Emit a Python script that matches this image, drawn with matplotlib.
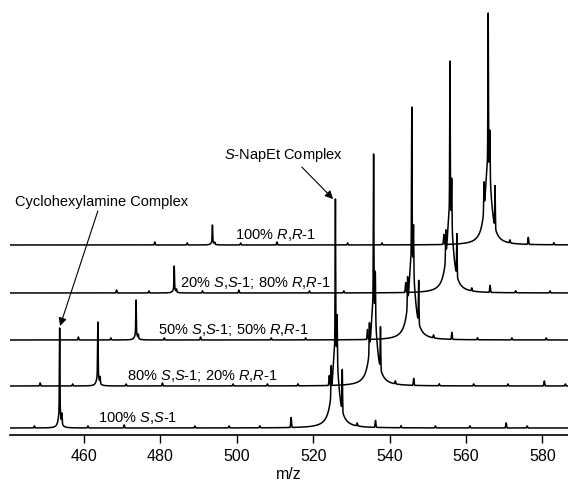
import numpy as np
import matplotlib.pyplot as plt

plt.rcParams['font.family'] = ['Liberation Sans', 'DejaVu Sans']
plt.rcParams['mathtext.fontset'] = 'custom'
plt.rcParams['mathtext.rm'] = 'Liberation Sans'
plt.rcParams['mathtext.it'] = 'Liberation Sans:italic'

# five spectra, bottom to top; each drawn shifted +10 m/z and stacked upward
trace_labels = [
    r"100% $\mathit{S}$,$\mathit{S}$-1",
    r"80% $\mathit{S}$,$\mathit{S}$-1; 20% $\mathit{R}$,$\mathit{R}$-1",
    r"50% $\mathit{S}$,$\mathit{S}$-1; 50% $\mathit{R}$,$\mathit{R}$-1",
    r"20% $\mathit{S}$,$\mathit{S}$-1; 80% $\mathit{R}$,$\mathit{R}$-1",
    r"100% $\mathit{R}$,$\mathit{R}$-1",
]
trace_shift = [0, 10, 20, 30, 40]
trace_offset = [0, 42, 88, 135, 183]
label_x = [463.6, 471.2, 479.3, 485.1, 499.5]

# peak intensities (arbitrary units)
cyclo_mz = 453.6
cyclo_height = [100, 64, 40, 27, 20]
napet_mz = 525.8
napet_height = [229, 232, 233, 232, 232]

# NapEt multiplet: offsets from main peak and relative sharp intensities
napet_lines = [-1.1, 0.0, 0.45, 1.8]
napet_rel = [0.12, 0.62, 0.19, 0.18]
napet_broad = 0.38  # fraction of peak height in the broad base

# small features common to every trace (m/z, height)
minor_mz = [438.5, 447.0, 461.0, 470.5, 489.0, 498.0, 506.0, 514.2, 531.5,
            536.3, 543.0, 552.0, 561.0, 570.5, 576.0]
minor_h = [3, 2, 2, 3, 2, 2, 2, 10, 3, 7, 2, 2, 2, 5, 2]


def lor(x, c, h, w):
    return h / (1 + ((x - c) / w) ** 2)


def spike(x, c, h, s=0.07):
    return h * np.exp(-0.5 * ((x - c) / s) ** 2)


fig = plt.figure(figsize=(5.68, 4.82), dpi=100)
ax = fig.add_axes([10 / 568, 47 / 482, 558 / 568, 435 / 482])

x = np.arange(440.0, 588.0, 0.02)
for i in range(5):
    m = x - trace_shift[i]
    ch = cyclo_height[i]
    nh = napet_height[i]
    y = lor(m, cyclo_mz, 0.2 * ch, 0.35) + spike(m, cyclo_mz, 0.8 * ch)
    y += spike(m, cyclo_mz + 0.6, 0.1 * ch)
    y += lor(m, napet_mz, napet_broad * nh, 0.9)
    for off, r in zip(napet_lines, napet_rel):
        y += spike(m, napet_mz + off, r * nh)
    for mz, h in zip(minor_mz, minor_h):
        y += spike(m, mz, h, 0.1)
    ax.plot(x, y + trace_offset[i], color='black', lw=1.1)
    ax.text(label_x[i], trace_offset[i] + 10, trace_labels[i], fontsize=10.5,
            ha='left', va='center')

arrow = dict(arrowstyle='-|>', color='black', lw=0.8, mutation_scale=12,
             shrinkA=0, shrinkB=0)
ax.text(441.9, 226, "Cyclohexylamine Complex", fontsize=10.5, ha='left', va='center')
ax.annotate("", xy=(453.7, 102), xytext=(463.6, 217), arrowprops=arrow)
ax.text(496.6, 273, r"$\mathit{S}$-NapEt Complex", fontsize=10.5, ha='left', va='center')
ax.annotate("", xy=(525.2, 229), xytext=(517.0, 261), arrowprops=arrow)

ax.set_xlim(440.6, 586.7)
ax.set_ylim(-7, 428)
ax.set_xticks([460, 480, 500, 520, 540, 560, 580])
ax.tick_params(axis='x', direction='out', length=6, width=1, labelsize=11.5, pad=4)
ax.set_yticks([])
for s in ['left', 'top', 'right']:
    ax.spines[s].set_visible(False)
ax.spines['bottom'].set_linewidth(1.2)
ax.set_xlabel("m/z", fontsize=11.5, labelpad=2)

plt.savefig("out.png", dpi=100)
